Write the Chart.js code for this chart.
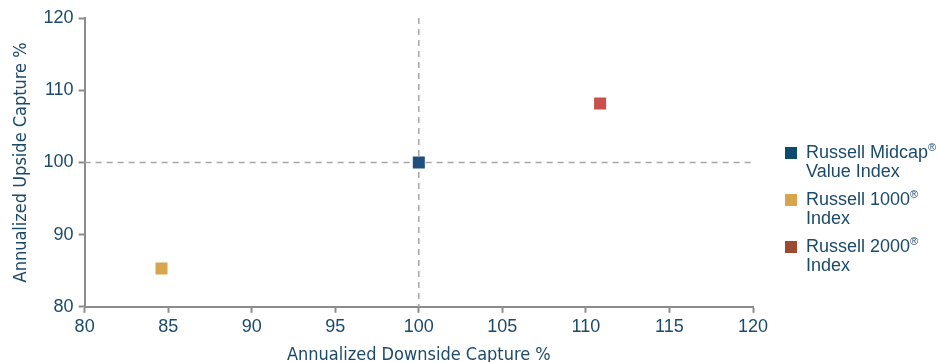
<!DOCTYPE html>
<html>
<head>
<meta charset="utf-8">
<script src="https://cdn.jsdelivr.net/npm/chart.js@4"></script>
<style>
  html, body { margin: 0; padding: 0; background: #fff; overflow: hidden; }
  #wrap { position: relative; width: 939px; height: 362px; overflow: hidden; }
  #legend { position: absolute; left: 785px; top: 143px; font-family: "Liberation Sans", Arial, sans-serif; font-size: 18px; color: #1b4a6b; line-height: 19px; }
  .item { display: flex; align-items: flex-start; margin-bottom: 9px; }
  .sw { width: 12px; height: 12px; margin: 4px 9px 0 0; flex: none; }
  sup { font-size: 11px; line-height: 0; vertical-align: 7px; }
</style>
</head>
<body>
<div id="wrap">
  <canvas id="c" width="939" height="366"></canvas>
  <div id="legend"></div>
</div>
<script>
// Capture ratios per index
const seriesNames = ["Russell Midcap® Value Index", "Russell 1000® Index", "Russell 2000® Index"];
const legendLines = [["Russell Midcap®", "Value Index"], ["Russell 1000®", "Index"], ["Russell 2000®", "Index"]];
const downsideCapture = [100, 84.6, 110.85];
const upsideCapture = [100, 85.3, 108.15];
const markerColors = ["#1f4e7f", "#d6a54e", "#c9504c"];
const legendColors = ["#0e4a6e", "#d6a54e", "#9c4a30"];
const xTicks = [80, 85, 90, 95, 100, 105, 110, 115, 120];
const yTicks = [80, 90, 100, 110, 120];

const textColor = "#1b4a6b";
const axisColor = "#8c8c8c";

// Dashed reference lines at 100 / 100
const refLines = {
  id: "refLines",
  beforeDatasetsDraw(chart) {
    const { ctx, chartArea: a, scales: { x, y } } = chart;
    const px = x.getPixelForValue(100), py = y.getPixelForValue(100);
    ctx.save();
    ctx.strokeStyle = "#a6a6a6";
    ctx.lineWidth = 1.5;
    ctx.setLineDash([6, 5]);
    ctx.beginPath();
    ctx.moveTo(px, a.top); ctx.lineTo(px, a.bottom);
    ctx.moveTo(a.left, py); ctx.lineTo(a.right, py);
    ctx.stroke();
    ctx.restore();
  }
};

const datasets = seriesNames.map((n, i) => ({
  label: n,
  data: [{ x: downsideCapture[i], y: upsideCapture[i] }],
  backgroundColor: markerColors[i],
  borderColor: markerColors[i],
  borderWidth: 0,
  pointStyle: "rect",
  pointRadius: 8.5,
  pointHoverRadius: 8.5
}));

const tickFont = { family: "Liberation Sans", size: 18 };
const titleFont = { family: "'DejaVu Sans Condensed', 'Liberation Sans'", size: 18 };
const gridOpts = { display: true, drawOnChartArea: false, drawTicks: true, tickLength: 6, tickColor: axisColor, tickWidth: 2 };
new Chart(document.getElementById("c"), {
  type: "scatter",
  data: { datasets },
  plugins: [refLines],
  options: {
    responsive: false,
    animation: false,
    layout: { padding: { top: 18, right: 186, bottom: 0, left: 11 } },
    plugins: { legend: { display: false }, tooltip: { enabled: false } },
    scales: {
      x: {
        type: "linear", min: 80, max: 120,
        afterBuildTicks: s => { s.ticks = xTicks.map(v => ({ value: v })); },
        grid: gridOpts,
        border: { color: axisColor, width: 2 },
        ticks: { color: textColor, font: tickFont, padding: 3, maxRotation: 0 },
        title: { display: true, text: "Annualized Downside Capture %", color: textColor, font: titleFont, padding: { top: 4, bottom: 0 } }
      },
      y: {
        type: "linear", min: 80, max: 120,
        afterBuildTicks: s => { s.ticks = yTicks.map(v => ({ value: v })); },
        grid: gridOpts,
        border: { color: axisColor, width: 2 },
        ticks: { color: textColor, font: tickFont, padding: 5 },
        title: { display: true, text: "Annualized Upside Capture %", color: textColor, font: titleFont, padding: { top: 0, bottom: 6 } }
      }
    }
  }
});

// Legend on the right
const lg = document.getElementById("legend");
legendLines.forEach((lines, i) => {
  const item = document.createElement("div");
  item.className = "item";
  const sw = document.createElement("div");
  sw.className = "sw";
  sw.style.background = legendColors[i];
  const tx = document.createElement("div");
  tx.innerHTML = lines.map(l => l.replace("®", "<sup>®</sup>")).join("<br>");
  item.appendChild(sw); item.appendChild(tx);
  lg.appendChild(item);
});
</script>
</body>
</html>
